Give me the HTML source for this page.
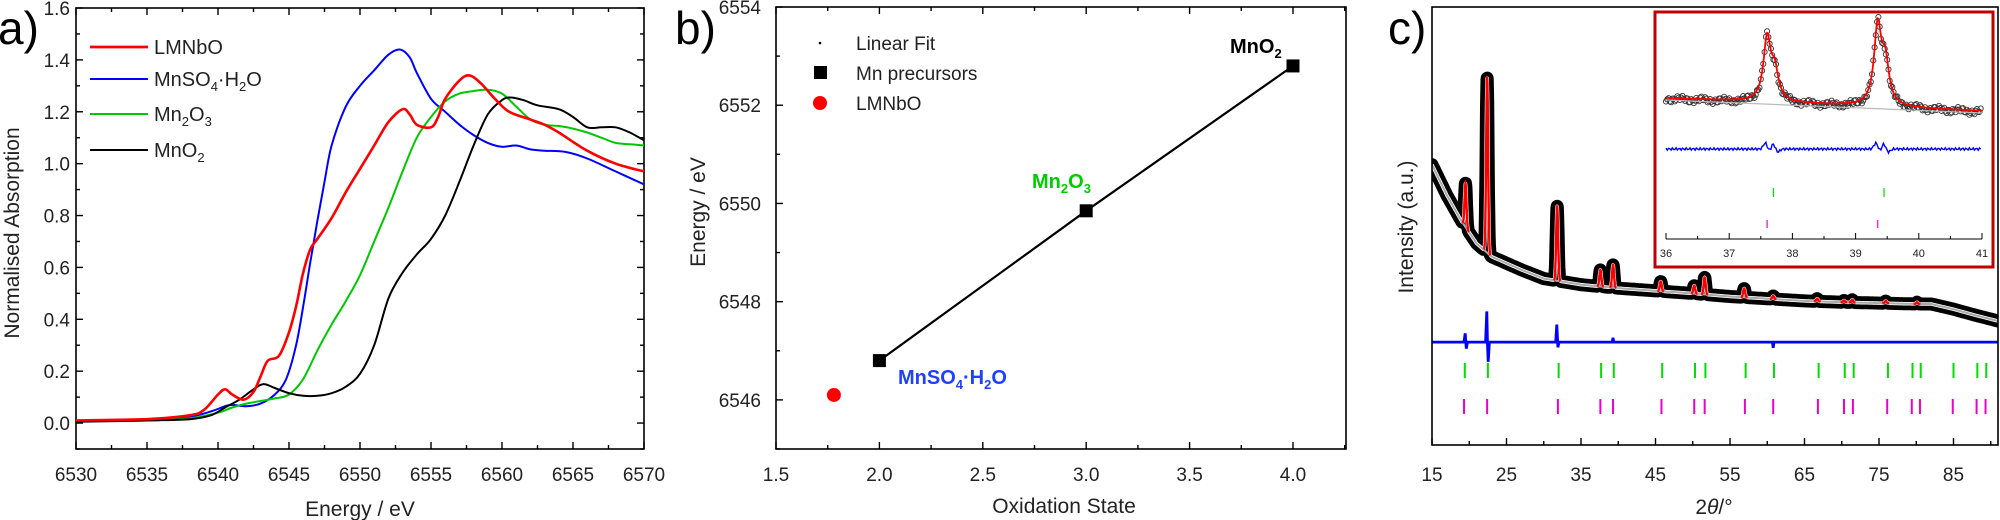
<!DOCTYPE html>
<html><head><meta charset="utf-8">
<style>
html,body{margin:0;padding:0;background:#fff;}
svg{display:block;font-family:"Liberation Sans",Arial,sans-serif;}
</style></head>
<body>
<svg id="fig" width="2000" height="520" viewBox="0 0 2000 520" xmlns="http://www.w3.org/2000/svg">
<g id="pa"></g>
<g id="pb"></g>
<g id="pc"></g>
</svg>
<script>
// ---------- Panel a data ----------
const redE=[6530,6535,6538,6539,6540,6540.5,6541,6541.8,6542.5,6543,6543.5,6544.3,6545,6545.5,6546,6546.5,6547,6548,6549,6550,6551,6552,6553,6553.5,6554,6555,6555.5,6556,6557,6557.7,6558.5,6559.5,6560.5,6562,6563,6564,6566,6568,6570];
const redA=[0.01,0.015,0.03,0.05,0.11,0.13,0.11,0.09,0.12,0.18,0.24,0.26,0.35,0.45,0.58,0.67,0.71,0.79,0.89,0.98,1.07,1.16,1.21,1.19,1.15,1.14,1.18,1.25,1.32,1.34,1.31,1.25,1.2,1.17,1.15,1.12,1.05,1.0,0.97];
const blueE=[6530,6535,6538,6539.5,6540.5,6541,6542,6543,6544,6544.8,6545.5,6546,6546.5,6547,6547.5,6548,6549,6550,6551,6552,6552.8,6553.5,6554,6555,6556,6557,6558,6559,6560,6561,6562,6563,6564.5,6566,6568,6570];
const blueA=[0.01,0.015,0.025,0.045,0.065,0.07,0.065,0.075,0.11,0.17,0.3,0.45,0.62,0.78,0.93,1.07,1.22,1.3,1.36,1.42,1.44,1.41,1.35,1.25,1.2,1.15,1.11,1.08,1.065,1.07,1.055,1.05,1.045,1.02,0.97,0.92];
const greenE=[6530,6535,6538,6540,6541,6542,6543,6544,6545,6546,6547,6548,6549,6550,6551,6552,6553,6554,6555,6556,6557,6558,6559,6560,6561,6562,6563,6564,6565,6566,6567,6568,6569,6570];
const greenA=[0.008,0.01,0.018,0.04,0.06,0.075,0.085,0.095,0.11,0.17,0.28,0.38,0.47,0.57,0.7,0.83,0.97,1.1,1.18,1.24,1.27,1.28,1.285,1.27,1.22,1.17,1.15,1.145,1.135,1.12,1.1,1.08,1.075,1.07];
const blackE=[6530,6535,6538,6539.5,6540.5,6541.5,6542.5,6543.2,6544,6545,6546,6547,6548,6549,6550,6551,6552,6553,6554,6555,6556,6557,6558,6559,6560,6560.6,6561.5,6562.5,6564,6565,6566,6567,6568,6569,6570];
const blackA=[0.005,0.01,0.015,0.03,0.06,0.09,0.13,0.15,0.135,0.115,0.105,0.105,0.115,0.14,0.19,0.3,0.48,0.58,0.65,0.71,0.8,0.93,1.07,1.19,1.245,1.255,1.245,1.225,1.21,1.18,1.14,1.14,1.14,1.12,1.09];
const aXTicks=[6530,6535,6540,6545,6550,6555,6560,6565,6570];
const aYTicks=[0.0,0.2,0.4,0.6,0.8,1.0,1.2,1.4,1.6];
// ---------- Panel b data ----------
const bPrecOx=[2,3,4];
const bPrecE=[6546.8,6549.85,6552.8];
const bSampleOx=[1.78];
const bSampleE=[6546.1];
const bXTicks=[1.5,2.0,2.5,3.0,3.5,4.0];
const bYTicks=[6546,6548,6550,6552,6554];
// ---------- Panel c data ----------
const bgT=[15,17,19,21,23,25,27,30,35,40,45,50,55,60,65,70,75,80,82,85,88,91];
const bgI=[64,57,51,46,43,41.5,40,38,36.6,35.8,35.2,34.6,33.9,33.4,32.9,32.6,32.4,32.2,32.2,31,29.6,28.3];
const peakT=[19.5,22.4,31.8,37.6,39.3,45.7,50.2,51.6,56.9,60.8,66.7,70.3,71.4,75.9,80.1];
const peakI=[10,40,17,3.8,5.2,2.2,1.8,3.9,2.0,0.7,0.6,0.4,0.6,0.5,0.4];
const diffT=[15,19.3,19.45,19.6,19.75,22.2,22.35,22.45,22.55,22.7,31.6,31.75,31.9,32.05,32.3,39.2,39.3,39.4,60.7,60.8,60.9,91];
const diffI=[23.5,23.5,25.5,22.0,23.5,23.5,30.5,23,19,23.5,23.5,27.5,22.3,23.5,23.5,23.5,24.5,23.5,23.5,22.2,23.5,23.5];
const phaseA=[19.4,22.5,32.0,37.7,39.4,45.9,50.3,51.7,57.1,60.9,66.9,70.4,71.6,76.2,79.5,80.6,85.0,88.2,89.4];
const phaseB=[19.3,22.4,31.9,37.6,39.3,45.8,50.2,51.6,57.0,60.8,66.8,70.3,71.5,76.1,79.4,80.5,84.9,88.1,89.3];
const cXTicks=[15,25,35,45,55,65,75,85];
// inset
const inPeakT=[37.6,37.72,39.35,39.47];
const inPeakI=[62,28,78,40];
const inBgT=[36,41];
const inBgI=[20,7];
const inPhaseA=[37.7,39.45];
const inPhaseB=[37.6,39.35];
const inXTicks=[36,37,38,39,40,41];

const NS="http://www.w3.org/2000/svg";
function mk(parent,tag,attrs,text){const e=document.createElementNS(NS,tag);for(const k in attrs)e.setAttribute(k,attrs[k]);if(text!==undefined)e.textContent=text;parent.appendChild(e);return e;}
function smooth(pts){let d="M"+pts[0][0].toFixed(1)+","+pts[0][1].toFixed(1);for(let i=0;i<pts.length-1;i++){const p0=pts[i-1]||pts[i],p1=pts[i],p2=pts[i+1],p3=pts[i+2]||p2;const c1=[p1[0]+(p2[0]-p0[0])/6,p1[1]+(p2[1]-p0[1])/6],c2=[p2[0]-(p3[0]-p1[0])/6,p2[1]-(p3[1]-p1[1])/6];d+="C"+c1[0].toFixed(1)+","+c1[1].toFixed(1)+" "+c2[0].toFixed(1)+","+c2[1].toFixed(1)+" "+p2[0].toFixed(1)+","+p2[1].toFixed(1);}return d;}
function interp(xs,ys,x){if(x<=xs[0])return ys[0];for(let i=0;i<xs.length-1;i++){if(x<=xs[i+1]){const t=(x-xs[i])/(xs[i+1]-xs[i]);return ys[i]+t*(ys[i+1]-ys[i]);}}return ys[ys.length-1];}

// ================= PANEL A =================
(function(){
const g=document.getElementById('pa');
const L=76,R=644,T=8,B=449;
const X=e=>L+(e-6530)/(40)*(R-L);
const Y=v=>B-(v+0.1)/1.7*(B-T);
const f=mk(g,'rect',{x:L,y:T,width:R-L,height:B-T,fill:'none',stroke:'#000','stroke-width':1.6});


for(let e=6530;e<=6570;e+=2.5){const maj=(e%5===0);const len=maj?7:4;
 mk(g,'line',{x1:X(e),x2:X(e),y1:B,y2:B-len,stroke:'#000','stroke-width':1.4});
 mk(g,'line',{x1:X(e),x2:X(e),y1:T,y2:T+len,stroke:'#000','stroke-width':1.4});}
for(let v=-0.1;v<=1.61;v+=0.1){const maj=Math.abs(Math.round(v*10)%2)===0;const len=maj?7:4;
 mk(g,'line',{x1:L,x2:L+len,y1:Y(v),y2:Y(v),stroke:'#000','stroke-width':1.4});
 mk(g,'line',{x1:R,x2:R-len,y1:Y(v),y2:Y(v),stroke:'#000','stroke-width':1.4});}
aXTicks.forEach(t=>{const tx=mk(g,'text',{x:X(t),y:481,'font-size':19,'text-anchor':'middle',fill:'#222'},String(t));
 
 });
aYTicks.forEach(t=>{const tx=mk(g,'text',{x:70,y:Y(t)+7,'font-size':19,'text-anchor':'end',fill:'#222'},t.toFixed(1));
 
 });
const xt=mk(g,'text',{x:360,y:516,'font-size':21,'text-anchor':'middle',fill:'#222'},'Energy / eV');


const yt=mk(g,'text',{x:0,y:0,'font-size':21,'text-anchor':'middle',fill:'#222',transform:'translate(19,233) rotate(-90)'},'Normalised Absorption');


const series=[['#0000ff',blueE,blueA,'series-mnso4'],['#00c800',greenE,greenA,'series-mn2o3'],['#000',blackE,blackA,'series-mno2'],['#ff0000',redE,redA,'series-lmnbo']];
series.forEach(s=>{const p=mk(g,'path',{d:smooth(s[1].map((e,i)=>[X(e),Y(s[2][i])])),fill:'none',stroke:s[0],'stroke-width':s[3]==='series-lmnbo'?2.6:2});
 
 });
const leg=[['#ff0000','LMNbO',47],['#0000ff','MnSO<tspan font-size="13" dy="5">4</tspan><tspan dy="-5">·H</tspan><tspan font-size="13" dy="5">2</tspan><tspan dy="-5">O</tspan>',79],['#00c800','Mn<tspan font-size="13" dy="5">2</tspan><tspan dy="-5">O</tspan><tspan font-size="13" dy="5">3</tspan>',114],['#000','MnO<tspan font-size="13" dy="5">2</tspan>',150]];
leg.forEach(l=>{const ln=mk(g,'line',{x1:90,x2:148,y1:l[2],y2:l[2],stroke:l[0],'stroke-width':l[0]==='#ff0000'?2.8:2});
 
 
 const t=mk(g,'text',{x:154,y:l[2]+7,'font-size':20,fill:'#222'});t.innerHTML=l[1];
 
 });
const lab=mk(g,'text',{x:-2,y:44,'font-size':46,fill:'#000'},'a)');


})();

// ================= PANEL B =================
(function(){
const g=document.getElementById('pb');
const L=776,R=1346,T=7,B=449;
const sx=(1293-776)/2.5;
const X=o=>L+(o-1.5)*sx;
const Y=e=>B-(e-6545)/9*(B-T);
const f=mk(g,'rect',{x:L,y:T,width:R-L,height:B-T,fill:'none',stroke:'#000','stroke-width':1.6});


for(let o=1.5;o<=4.26;o+=0.25){const maj=Math.abs(o*2-Math.round(o*2))<1e-6;const len=maj?7:4;
 mk(g,'line',{x1:X(o),x2:X(o),y1:B,y2:B-len,stroke:'#000','stroke-width':1.4});
 mk(g,'line',{x1:X(o),x2:X(o),y1:T,y2:T+len,stroke:'#000','stroke-width':1.4});}
for(let e=6545;e<=6554;e+=1){const maj=e%2===0;const len=maj?7:4;
 mk(g,'line',{x1:L,x2:L+len,y1:Y(e),y2:Y(e),stroke:'#000','stroke-width':1.4});}
bXTicks.forEach(t=>{const tx=mk(g,'text',{x:X(t),y:481,'font-size':19,'text-anchor':'middle',fill:'#222'},t.toFixed(1));
 
 });
bYTicks.forEach(t=>{const tx=mk(g,'text',{x:761,y:Y(t)+7,'font-size':19,'text-anchor':'end',fill:'#222'},String(t));
 
 });
const xt=mk(g,'text',{x:1064,y:513,'font-size':21,'text-anchor':'middle',fill:'#222'},'Oxidation State');


const yt=mk(g,'text',{x:0,y:0,'font-size':21,'text-anchor':'middle',fill:'#222',transform:'translate(705,212) rotate(-90)'},'Energy / eV');


const fit=mk(g,'polyline',{points:bPrecOx.map((o,i)=>X(o)+','+Y(bPrecE[i])).join(' '),fill:'none',stroke:'#000','stroke-width':2.2});


bPrecOx.forEach((o,i)=>{const r=mk(g,'rect',{x:X(o)-6.5,y:Y(bPrecE[i])-6.5,width:13,height:13,fill:'#000'});
 
 });
bSampleOx.forEach((o,i)=>{const c=mk(g,'circle',{cx:X(o),cy:Y(bSampleE[i]),r:7,fill:'#ff0000'});
 
 });
const l1=mk(g,'circle',{cx:820,cy:43,r:1.3,fill:'#000'});


const l2=mk(g,'rect',{x:814,y:66,width:13,height:13,fill:'#000'});


const l3=mk(g,'circle',{cx:820,cy:103,r:7,fill:'#ff0000'});


[['Linear Fit',50],['Mn precursors',80],['LMNbO',110]].forEach(l=>{const t=mk(g,'text',{x:856,y:l[1],'font-size':19,fill:'#222'},l[0]);
 
 });
const a1=mk(g,'text',{x:1230,y:53,'font-size':20,'font-weight':'bold',fill:'#000'});a1.innerHTML='MnO<tspan font-size="13" dy="5">2</tspan>';


const a2=mk(g,'text',{x:1032,y:188,'font-size':20,'font-weight':'bold',fill:'#00cc00'});a2.innerHTML='Mn<tspan font-size="13" dy="5">2</tspan><tspan dy="-5">O</tspan><tspan font-size="13" dy="5">3</tspan>';


const a3=mk(g,'text',{x:898,y:384,'font-size':20,'font-weight':'bold',fill:'#2040ff'});a3.innerHTML='MnSO<tspan font-size="13" dy="5">4</tspan><tspan dy="-5">·H</tspan><tspan font-size="13" dy="5">2</tspan><tspan dy="-5">O</tspan>';


const lab=mk(g,'text',{x:675,y:44,'font-size':46,fill:'#000'},'b)');


})();

// ================= PANEL C =================
(function(){
const g=document.getElementById('pc');
const L=1432,R=1998,T=7,B=445;
const X=t=>L+(t-15)*7.45;
const Y=v=>B-v/100*(B-T);
const sig=0.13;
const calc=t=>{let v=interp(bgT,bgI,t);peakT.forEach((p,i)=>{v+=peakI[i]*Math.exp(-0.5*Math.pow((t-p)/sig,2));});return v;};
const obsPts=[],bgPts=[];
for(let t=15;t<=91.001;t+=0.03){obsPts.push(X(t).toFixed(1)+','+Y(calc(t)).toFixed(1));bgPts.push(X(t).toFixed(1)+','+Y(interp(bgT,bgI,t)).toFixed(1));}
const clip=mk(g,'clipPath',{id:'cclip'});mk(clip,'rect',{x:L,y:T,width:R-L,height:B-T});
const data=mk(g,'g',{'clip-path':'url(#cclip)'});
const obs=mk(data,'polyline',{points:obsPts.join(' '),fill:'none',stroke:'#000','stroke-width':13,'stroke-linejoin':'round','stroke-linecap':'round'});


const obsW=mk(data,'polyline',{points:obsPts.join(' '),fill:'none',stroke:'#fff','stroke-width':3.5,'stroke-linejoin':'round'});


const bgl=mk(data,'polyline',{points:bgPts.join(' '),fill:'none',stroke:'#aaa','stroke-width':2});


peakT.forEach((p,i)=>{const pts=[];for(let t=p-0.45;t<=p+0.45;t+=0.02)pts.push(X(t).toFixed(1)+','+Y(calc(t)).toFixed(1));
 const pl=mk(data,'polyline',{points:pts.join(' '),fill:'none',stroke:'#ff0000','stroke-width':2.4});
 
 });
const dp=mk(data,'polyline',{points:diffT.map((t,i)=>X(t).toFixed(1)+','+Y(diffI[i]).toFixed(1)).join(' '),fill:'none',stroke:'#0000ff','stroke-width':2.8});


phaseA.forEach(t=>{const l=mk(g,'line',{x1:X(t),x2:X(t),y1:363,y2:378,stroke:'#00dd00','stroke-width':2});
 
 });
phaseB.forEach(t=>{const l=mk(g,'line',{x1:X(t),x2:X(t),y1:399,y2:414,stroke:'#ee00cc','stroke-width':2});
 
 });
const f=mk(g,'rect',{x:L,y:T,width:R-L,height:B-T,fill:'none',stroke:'#000','stroke-width':1.6});


for(let t=15;t<=91;t+=5){const maj=(t-15)%10===0;mk(g,'line',{x1:X(t),x2:X(t),y1:B,y2:B-(maj?7:4),stroke:'#000','stroke-width':1.4});}
cXTicks.forEach(t=>{const tx=mk(g,'text',{x:X(t),y:481,'font-size':19,'text-anchor':'middle',fill:'#222'},String(t));
 
 });
const xt=mk(g,'text',{x:1714,y:514,'font-size':21,'text-anchor':'middle',fill:'#222'});xt.innerHTML='2<tspan font-style="italic">θ</tspan>/°';


const yt=mk(g,'text',{x:0,y:0,'font-size':21,'text-anchor':'middle',fill:'#222',transform:'translate(1413,227) rotate(-90)'},'Intensity (a.u.)');


const lab=mk(g,'text',{x:1388,y:44,'font-size':46,fill:'#000'},'c)');


// inset
const ig=mk(g,'g',{});


const box=mk(ig,'rect',{x:1655,y:12,width:338,height:255,fill:'#fff',stroke:'#c00000','stroke-width':3});


const iL=1666,iR=1982;
const IX=t=>iL+(t-36)/5*(iR-iL);
const IY=v=>118-v;
const iBg=t=>interp(inBgT,inBgI,t);
const iCalc=t=>{let v=iBg(t);inPeakT.forEach((p,i)=>{const w=0.07;v+=inPeakI[i]/(1+Math.pow((t-p)/w,2));});return v;};
let circ="";
let k=0;
for(let t=36;t<=41;t+=0.02){k++;const j=2.2*Math.sin(k*1.7)+1.5*Math.sin(k*0.37);circ+=`<circle cx="${IX(t).toFixed(1)}" cy="${(IY(iCalc(t))+1+j).toFixed(1)}" r="2.6"/>`;}
const cg=mk(ig,'g',{fill:'none',stroke:'#333','stroke-width':0.9});cg.innerHTML=circ;


const ibg=mk(ig,'line',{x1:IX(36),x2:IX(41),y1:IY(iBg(36))+2,y2:IY(iBg(41))+2,stroke:'#bbb','stroke-width':1.2});


const cp=[];for(let t=36;t<=41;t+=0.01)cp.push(IX(t).toFixed(1)+','+IY(iCalc(t)).toFixed(1));
const ic=mk(ig,'polyline',{points:cp.join(' '),fill:'none',stroke:'#ff0000','stroke-width':1.8});


const idp=[];k=0;for(let t=36;t<=41;t+=0.02){k++;let d=1.2*Math.sin(k*2.3);inPeakT.forEach(p=>{d+=6*Math.exp(-0.5*Math.pow((t-p+0.03)/0.03,2))-3*Math.exp(-0.5*Math.pow((t-p-0.05)/0.03,2));});idp.push(IX(t).toFixed(1)+','+(149-d).toFixed(1));}
const id=mk(ig,'polyline',{points:idp.join(' '),fill:'none',stroke:'#0000ff','stroke-width':1.4});


inPhaseA.forEach(t=>{const l=mk(ig,'line',{x1:IX(t),x2:IX(t),y1:188,y2:197,stroke:'#00dd00','stroke-width':1.2});
 
 });
inPhaseB.forEach(t=>{const l=mk(ig,'line',{x1:IX(t),x2:IX(t),y1:220,y2:228,stroke:'#ee00cc','stroke-width':1.2});
 
 });
mk(ig,'line',{x1:iL,x2:iR,y1:239,y2:239,stroke:'#000','stroke-width':1});
for(let t=36;t<=41;t+=0.5){mk(ig,'line',{x1:IX(t),x2:IX(t),y1:239,y2:t%1===0?233:236,stroke:'#000','stroke-width':1});}
inXTicks.forEach(t=>{const tx=mk(ig,'text',{x:IX(t),y:257,'font-size':11,'text-anchor':'middle',fill:'#222'},String(t));
 
 });
})();
</script>
</body></html>
